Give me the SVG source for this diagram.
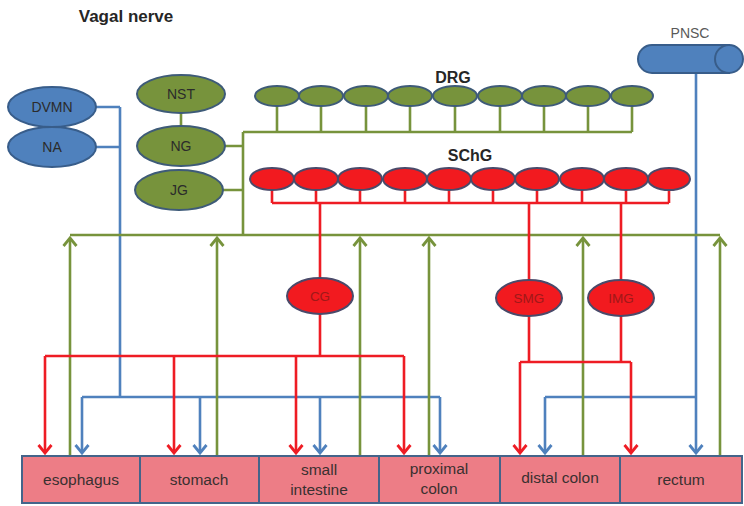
<svg xmlns="http://www.w3.org/2000/svg" width="744" height="506" viewBox="0 0 744 506">
<style>
text{font-family:"Liberation Sans",Arial,sans-serif;text-anchor:middle}
.title{font-weight:bold;font-size:17px;fill:#262626}
.hdr{font-weight:bold;font-size:16px;fill:#262626}
.el{font-size:14px;fill:#2b2b2b}
.rl{font-size:13.5px;fill:#a01818}
.org{font-size:15.5px;fill:#3a3030}
.blueN{fill:#4f81bd;stroke:#385d8a;stroke-width:2}
.greenN{fill:#77933c;stroke:#3e5b78;stroke-width:2}
.redN{fill:#f21a1f;stroke:#4a4a6a;stroke-width:2}
.box{fill:#ed7d86;stroke:#44648a;stroke-width:2}
.b{stroke:#4f81bd;stroke-width:2.6;fill:none}
.g{stroke:#77933c;stroke-width:2.6;fill:none}
.r{stroke:#ee1c24;stroke-width:2.6;fill:none}
.ab{marker-end:url(#mb)}
.ag{marker-end:url(#mg)}
.ar{marker-end:url(#mr)}
</style>
<defs>
<marker id="mb" markerUnits="userSpaceOnUse" markerWidth="20" markerHeight="20" refX="0" refY="0" viewBox="-10 -10 20 20" orient="auto" overflow="visible"><path d="M-8,-6.5 L0,0 L-8,6.5" fill="none" stroke="#4f81bd" stroke-width="2.8"/></marker>
<marker id="mg" markerUnits="userSpaceOnUse" markerWidth="20" markerHeight="20" refX="0" refY="0" viewBox="-10 -10 20 20" orient="auto" overflow="visible"><path d="M-8,-6.5 L0,0 L-8,6.5" fill="none" stroke="#77933c" stroke-width="2.8"/></marker>
<marker id="mr" markerUnits="userSpaceOnUse" markerWidth="20" markerHeight="20" refX="0" refY="0" viewBox="-10 -10 20 20" orient="auto" overflow="visible"><path d="M-8,-6.5 L0,0 L-8,6.5" fill="none" stroke="#ee1c24" stroke-width="2.8"/></marker>
</defs>
<rect width="744" height="506" fill="#ffffff"/>
<text class="title" x="126" y="22">Vagal nerve</text>
<text class="hdr" x="453" y="83">DRG</text>
<text class="hdr" x="470" y="161">SChG</text>

<g id="connectors">
  <!-- blue vagal -->
  <path class="b" d="M96,107 H120 M96,147 H120 M120,107 V397 M82,397 H440"/>
  <path class="b ab" d="M82,397 V453"/>
  <path class="b ab" d="M200,397 V453"/>
  <path class="b ab" d="M320,397 V453"/>
  <path class="b ab" d="M440,397 V453"/>
  <!-- blue PNSC -->
  <path class="b" d="M545,397 H696"/>
  <path class="b ab" d="M696,73 V453"/>
  <path class="b ab" d="M545,397 V453"/>
  <!-- green -->
  <path class="g" d="M181,112 V127 M225,146 H243 M223,190 H243 M243,132 V235 M243,132 H632"/>
  <path class="g" d="M277,106 V132 M321,106 V132 M366,106 V132 M410,106 V132 M455,106 V132 M500,106 V132 M544,106 V132 M588,106 V132 M632,106 V132"/>
  <path class="g" d="M70,235 H720"/>
  <path class="g ag" d="M70,456 V238"/>
  <path class="g ag" d="M217,456 V238"/>
  <path class="g ag" d="M360,456 V238"/>
  <path class="g ag" d="M429,456 V238"/>
  <path class="g ag" d="M583,456 V238"/>
  <path class="g ag" d="M720,456 V238"/>
  <!-- red -->
  <path class="r" d="M272,190 V203 M316,190 V203 M360,190 V203 M405,190 V203 M449,190 V203 M493,190 V203 M537,190 V203 M582,190 V203 M626,190 V203 M669,190 V203 M272,203 H669"/>
  <path class="r" d="M320,203 V278 M320,314 V356 M45,356 H404"/>
  <path class="r ar" d="M45,356 V453"/>
  <path class="r ar" d="M174,356 V453"/>
  <path class="r ar" d="M296,356 V453"/>
  <path class="r ar" d="M404,356 V453"/>
  <path class="r" d="M529,203 V280 M529,316 V362 M621,203 V280 M621,316 V362 M520,362 H631"/>
  <path class="r ar" d="M520,362 V453"/>
  <path class="r ar" d="M631,362 V453"/>
</g>

<g id="DVMN"><ellipse class="blueN" cx="52" cy="107" rx="44" ry="20"/><text class="el" x="52" y="112">DVMN</text></g>
<g id="NA"><ellipse class="blueN" cx="52" cy="147" rx="44" ry="20"/><text class="el" x="52" y="152">NA</text></g>
<g id="NST"><ellipse class="greenN" cx="181" cy="94" rx="44" ry="19"/><text class="el" x="181" y="99">NST</text></g>
<g id="NG"><ellipse class="greenN" cx="181" cy="146" rx="44" ry="20"/><text class="el" x="181" y="151">NG</text></g>
<g id="JG"><ellipse class="greenN" cx="179" cy="190" rx="44" ry="20"/><text class="el" x="179" y="195">JG</text></g>

<g id="DRG">
  <ellipse class="greenN" cx="277" cy="96" rx="22" ry="10"/>
  <ellipse class="greenN" cx="321" cy="96" rx="22" ry="10"/>
  <ellipse class="greenN" cx="366" cy="96" rx="22" ry="10"/>
  <ellipse class="greenN" cx="410" cy="96" rx="22" ry="10"/>
  <ellipse class="greenN" cx="455" cy="96" rx="22" ry="10"/>
  <ellipse class="greenN" cx="500" cy="96" rx="22" ry="10"/>
  <ellipse class="greenN" cx="544" cy="96" rx="22" ry="10"/>
  <ellipse class="greenN" cx="588" cy="96" rx="22" ry="10"/>
  <ellipse class="greenN" cx="632" cy="96" rx="21" ry="10"/>
</g>

<g id="SChG">
  <ellipse class="redN" cx="272" cy="179" rx="22" ry="11"/>
  <ellipse class="redN" cx="316" cy="179" rx="22" ry="11"/>
  <ellipse class="redN" cx="360" cy="179" rx="22" ry="11"/>
  <ellipse class="redN" cx="405" cy="179" rx="22" ry="11"/>
  <ellipse class="redN" cx="449" cy="179" rx="22" ry="11"/>
  <ellipse class="redN" cx="493" cy="179" rx="22" ry="11"/>
  <ellipse class="redN" cx="537" cy="179" rx="22" ry="11"/>
  <ellipse class="redN" cx="582" cy="179" rx="22" ry="11"/>
  <ellipse class="redN" cx="626" cy="179" rx="22" ry="11"/>
  <ellipse class="redN" cx="669" cy="179" rx="21" ry="11"/>
</g>

<g id="CG"><ellipse class="redN" cx="320" cy="296" rx="33" ry="18"/><text class="rl" x="320" y="301">CG</text></g>
<g id="SMG"><ellipse class="redN" cx="529" cy="298" rx="33" ry="18"/><text class="rl" x="529" y="303">SMG</text></g>
<g id="IMG"><ellipse class="redN" cx="621" cy="298" rx="33" ry="18"/><text class="rl" x="621" y="303">IMG</text></g>

<g id="PNSC">
  <path class="blueN" d="M652,45 H729 V73 H652 A14,14 0 0 1 652,45 Z"/>
  <ellipse class="blueN" cx="729" cy="59" rx="14" ry="14"/>
  <text x="690" y="38" style="font-size:14px;fill:#595959">PNSC</text>
</g>

<g id="esophagus"><rect class="box" x="22" y="456" width="118" height="47"/><text class="org" x="81" y="485">esophagus</text></g>
<g id="stomach"><rect class="box" x="140" y="456" width="119" height="47"/><text class="org" x="199" y="485">stomach</text></g>
<g id="small_intestine"><rect class="box" x="259" y="456" width="120" height="47"/><text class="org" x="319" y="475">small</text><text class="org" x="319" y="495">intestine</text></g>
<g id="proximal_colon"><rect class="box" x="379" y="456" width="121" height="47"/><text class="org" x="439" y="474">proximal</text><text class="org" x="439" y="494">colon</text></g>
<g id="distal_colon"><rect class="box" x="500" y="456" width="120" height="47"/><text class="org" x="560" y="483">distal colon</text></g>
<g id="rectum"><rect class="box" x="620" y="456" width="122" height="47"/><text class="org" x="681" y="485">rectum</text></g>
</svg>
